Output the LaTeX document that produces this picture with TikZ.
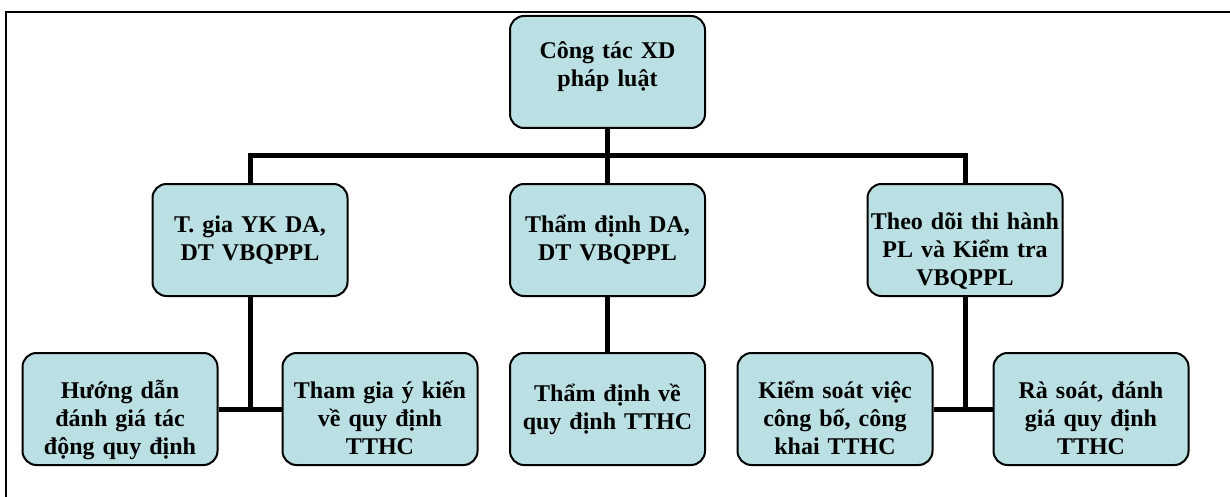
\documentclass[tikz,border=0pt]{standalone}
\usepackage{fontspec}
\setmainfont{Liberation Serif}
\usetikzlibrary{positioning}
\definecolor{boxblue}{RGB}{187,224,228}
\tikzset{
  box/.style={draw, fill=boxblue, rounded corners=14pt, line width=2pt,
              minimum width=195pt, minimum height=112pt, text width=192pt,
              align=center, inner sep=0pt, text height=17pt, text depth=33pt,
              font=\bfseries\fontsize{24pt}{28pt}\selectfont},
  threeline/.style={text depth=39pt},
  link/.style={line width=5pt}
}

\begin{document}
\begin{tikzpicture}[x=1pt, y=1pt, node distance=168pt]
\useasboundingbox (0,0) rectangle (1230,-497);
% frame
\draw[line width=2.3pt] (1230,-12) -- (6,-12) -- (6,-497);

\node[box, text depth=43pt] (top) at (607.5,-72) {Công tác XD\\pháp luật};
\node[box, below of=top] (mid) {Thẩm định DA,\\DT VBQPPL};
\node[box, left of=mid, node distance=357.5pt] (left) {T. gia YK DA,\\DT VBQPPL};
\node[box, threeline, right of=mid, node distance=357.5pt] (right) {Theo dõi thi hành\\PL và Kiểm tra\\VBQPPL};
\node[box, below of=mid, yshift=-1pt] (midb) {Thẩm định về\\quy định TTHC};
\node[box, threeline, below of=left, yshift=-1pt, xshift=-130pt] (hd) {Hướng dẫn\\đánh giá tác\\động quy định};
\node[box, threeline, below of=left, yshift=-1pt, xshift=130pt] (tg) {Tham gia ý kiến\\về quy định\\TTHC};
\node[box, threeline, below of=right, yshift=-1pt, xshift=-130pt] (ks) {Kiểm soát việc\\công bố, công\\khai TTHC};
\node[box, threeline, below of=right, yshift=-1pt, xshift=126pt] (rs) {Rà soát, đánh\\giá quy định\\TTHC};

\coordinate (bar) at (607.5,-156);

\path[link]
    (top) edge (mid)
    (mid) edge (midb)
    (hd) edge (tg)
    (ks) edge (rs);
\draw[link] (left.north) -- (left.north |- bar) -- (right.north |- bar) -- (right.north);
\draw[link] (left.south) -- (left.south |- hd.east);
\draw[link] (right.south) -- (right.south |- ks.east);
\end{tikzpicture}
\end{document}
